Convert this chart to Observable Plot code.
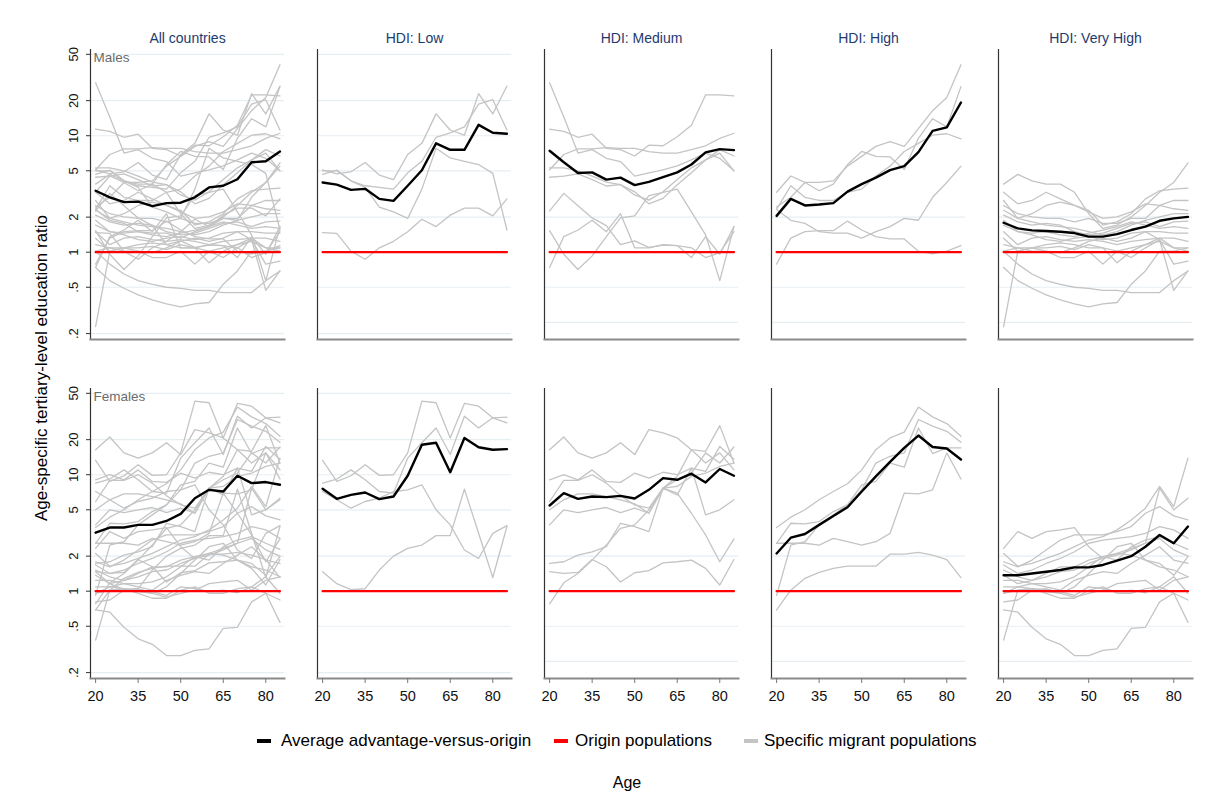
<!DOCTYPE html>
<html><head><meta charset="utf-8">
<script src="https://cdn.jsdelivr.net/npm/d3@7"></script>
<script src="https://cdn.jsdelivr.net/npm/@observablehq/plot@0.6"></script>
<style>
body{margin:0;background:#fff;font-family:"Liberation Sans",Arial,sans-serif;}
#wrap{position:relative;width:1215px;height:809px;overflow:hidden;}
.leg{position:absolute;top:730px;font-size:17px;line-height:22px;white-space:nowrap;color:#000;}
.sw{position:absolute;top:739px;width:14px;height:4px;}
#xlab{position:absolute;top:772px;left:600px;width:54px;text-align:center;font-size:16px;line-height:22px;}
</style></head><body><div id="wrap"></div>
<script>
// ---- categories & ticks ----
const panels = ["All countries","HDI: Low","HDI: Medium","HDI: High","HDI: Very High"];
const sexes = ["Males","Females"];
const ages = [20,25,30,35,40,45,50,55,60,65,70,75,80,85];
const xTicks = [20,35,50,65,80];
const yTicks = [0.2,0.5,1,2,5,10,20,50];
const yTickLabels = [".2",".5","1","2","5","10","20","50"];
const gridFull = [0.2,0.5,2,5,10,20,50];
const gridPartial = [0.25,0.5,2];
const originRatio = 1;

// ---- average advantage-versus-origin (black) ----
const avgMaleAll      = [3.37,2.96,2.69,2.72,2.49,2.64,2.66,2.96,3.60,3.72,4.23,5.92,6.03,7.33];
const avgMaleLow      = [3.97,3.80,3.43,3.50,2.87,2.76,3.72,5.05,8.60,7.57,7.57,12.4,10.6,10.4];
const avgMaleMedium   = [7.43,5.92,4.78,4.85,4.20,4.37,3.77,4.02,4.42,4.85,5.66,7.20,7.67,7.53];
const avgMaleHigh     = [2.05,2.87,2.52,2.57,2.64,3.31,3.84,4.37,5.07,5.48,7.24,11.0,11.8,19.3];
const avgMaleVeryHigh = [1.79,1.60,1.54,1.52,1.50,1.46,1.36,1.36,1.43,1.55,1.66,1.86,1.95,2.01];

const avgFemaleAll      = [3.18,3.52,3.52,3.71,3.71,4.01,4.61,6.29,7.42,7.18,9.80,8.47,8.65,8.20];
const avgFemaleLow      = [7.57,6.21,6.72,7.04,6.17,6.50,9.80,18.1,18.8,10.5,20.7,17.2,16.4,16.6];
const avgFemaleMedium   = [5.44,6.95,6.21,6.50,6.42,6.59,6.25,7.42,9.36,9.05,10.2,8.59,11.2,9.80];
const avgFemaleHigh     = [2.11,2.88,3.10,3.71,4.43,5.26,7.18,9.68,12.9,17.0,21.7,17.3,16.8,13.5];
const avgFemaleVeryHigh = [1.37,1.37,1.42,1.47,1.52,1.60,1.60,1.68,1.83,2.00,2.41,3.04,2.58,3.59];

// ---- specific migrant populations (gray) ----
const migMaleLow = [
 [5.1,4.7,4.9,5.9,4.6,4.2,6.9,8.6,15.4,11.2,10.1,23.0,15.4,26.7],
 [5.0,5.0,4.1,3.72,3.6,3.48,4.8,6.03,9.7,10.6,11.9,18.7,20.4,11.2],
 [4.66,5.07,4.1,3.6,2.44,2.22,1.95,3.48,7.8,6.44,6.03,5.66,4.75,1.55],
 [1.47,1.45,1.02,0.87,1.09,1.24,1.5,1.92,1.66,2.08,2.39,2.39,2.05,2.87]
];
const migMaleMedium = [
 [28.5,14.5,7.1,7.6,6.4,6.0,4.5,4.8,5.1,5.5,6.2,7.1,6.4,5.0],
 [11.4,10.9,9.7,10.3,7.8,7.6,6.7,8.3,8.2,9.8,12.3,22.4,22.4,22.0],
 [5.1,6.9,7.7,7.7,7.9,7.8,7.8,7.3,7.1,7.1,7.6,8.2,9.5,10.5],
 [5.3,5.3,5.0,4.5,4.0,3.8,3.3,2.6,2.9,3.8,4.8,6.2,7.6,6.7],
 [4.4,4.5,4.7,4.2,3.7,3.8,3.1,2.8,3.3,4.2,5.3,6.2,7.1,5.0],
 [2.26,3.2,2.5,1.97,1.69,1.16,1.25,1.10,1.15,1.14,0.90,1.36,0.96,1.66],
 [1.53,0.96,0.71,0.93,1.36,1.97,2.05,3.06,3.27,3.48,2.22,1.41,0.57,1.66],
 [0.74,1.36,1.55,1.88,1.50,2.14,1.09,1.09,1.16,1.14,1.09,0.90,0.99,1.50]
];
const migMaleHigh = [
 [2.44,2.96,3.97,3.97,4.1,5.48,6.65,8.1,8.9,8.1,11.5,16.4,21.3,40.7],
 [3.27,4.51,3.97,3.37,3.84,5.66,7.33,6.65,6.58,5.13,9.5,14.0,11.9,26.4],
 [2.33,3.72,2.96,2.78,2.78,3.27,3.48,4.51,5.48,7.33,8.6,10.1,10.4,9.4],
 [2.33,1.88,1.77,1.50,1.46,1.46,1.32,1.50,1.66,1.95,1.88,2.96,3.97,5.48],
 [0.79,1.32,1.50,1.53,1.53,1.85,1.55,1.36,1.30,1.30,1.02,0.97,1.02,1.14]
];
const migMaleVeryHigh = [
 [3.84,4.66,4.10,3.84,3.84,3.27,2.14,1.60,1.71,2.01,2.52,3.27,3.97,5.85],
 [3.27,2.60,2.78,3.27,2.87,2.52,2.29,1.71,1.82,2.14,2.87,3.37,3.48,3.55],
 [2.78,1.95,2.14,2.52,2.69,2.52,2.22,1.95,2.01,2.22,2.60,2.52,2.78,2.78],
 [2.52,2.14,2.01,1.95,1.95,1.82,1.95,1.77,1.77,1.95,1.95,2.52,2.36,2.29],
 [2.29,1.95,1.82,1.71,1.66,1.60,1.50,1.41,1.50,1.71,1.88,2.01,2.14,2.14],
 [2.08,1.82,1.71,1.77,1.71,1.50,1.41,1.46,1.60,1.77,1.82,1.66,1.82,1.85],
 [1.88,1.50,1.46,1.50,1.41,1.36,1.46,1.55,1.66,1.82,1.71,1.60,1.66,1.60],
 [1.71,1.50,1.41,1.28,1.24,1.32,1.36,1.28,1.32,1.46,1.50,1.50,1.46,1.46],
 [1.50,1.16,1.32,1.36,1.28,1.24,1.28,1.24,1.16,1.24,1.28,1.32,1.32,1.24],
 [1.32,1.02,1.09,1.09,1.12,1.05,1.16,1.09,0.81,1.02,1.16,1.24,1.09,1.09],
 [1.16,1.09,1.02,1.02,0.99,1.09,1.24,1.32,1.24,1.32,1.50,1.28,0.79,0.84],
 [1.02,1.09,1.09,1.02,0.90,0.90,1.02,0.79,1.02,0.90,1.09,1.28,0.47,0.69],
 [0.74,0.57,0.49,0.43,0.39,0.36,0.34,0.36,0.37,0.53,0.69,1.02,1.02,1.09],
 [1.02,0.79,0.65,0.57,0.53,0.50,0.49,0.47,0.47,0.45,0.45,0.45,0.57,0.69],
 [0.23,1.02,1.09,1.16,1.20,1.16,1.09,1.09,1.02,1.09,1.16,1.32,1.09,1.02]
];

const migFemaleLow = [
 [13.3,8.76,9.80,12.2,9.87,10.0,15.4,42.9,41.5,20.7,40.9,38.8,30.8,27.9],
 [8.47,9.18,11.0,9.05,7.18,6.95,13.9,18.8,25.2,14.9,31.8,25.2,30.8,31.2],
 [7.18,6.09,5.16,5.89,6.29,7.18,7.42,8.20,5.0,3.71,2.26,1.91,3.14,3.66],
 [1.47,1.16,1.03,1.05,1.52,2.0,2.33,2.49,3.0,3.0,7.52,3.14,1.31,3.59]
];
const migFemaleMedium = [
 [16.4,21.1,15.4,13.9,15.4,18.8,14.9,24.4,22.9,20.7,16.4,15.9,26.4,12.6],
 [9.05,10.0,9.05,11.0,8.76,8.59,10.3,9.36,10.5,10.0,11.4,10.7,17.5,13.6],
 [5.89,8.93,8.93,10.0,8.47,6.59,5.51,5.16,7.67,9.05,10.3,15.4,12.6,17.3],
 [5.0,6.09,6.86,6.86,6.50,6.09,5.62,4.67,7.67,7.93,9.68,10.3,11.8,12.6],
 [3.71,5.0,4.73,5.0,5.23,4.73,5.16,4.67,7.67,6.72,11.4,4.52,5.0,6.09],
 [1.73,1.79,2.04,2.18,2.41,3.83,3.59,3.25,7.67,9.68,16.4,12.6,15.4,11.0],
 [0.78,1.18,1.42,1.85,2.49,3.47,3.71,5.0,7.67,6.95,4.67,3.04,1.79,2.81],
 [1.47,1.42,1.45,1.87,1.62,1.20,1.44,1.50,1.75,1.79,1.85,1.57,1.13,1.87]
];
const migFemaleHigh = [
 [3.52,4.32,5.0,6.09,7.18,8.36,11.0,16.4,20.7,23.2,38.1,31.4,27.5,21.4],
 [2.58,3.83,3.78,3.96,4.83,5.51,7.42,12.6,14.4,15.4,29.8,26.1,23.6,19.0],
 [2.58,2.58,2.58,2.49,2.84,2.66,2.49,2.66,3.14,6.95,6.86,7.42,15.4,9.18],
 [0.92,2.49,2.66,3.71,4.52,5.51,8.2,8.76,12.6,11.6,25.2,15.2,17.0,17.0],
 [0.69,1.02,1.29,1.45,1.57,1.64,1.64,1.64,2.08,2.08,2.15,2.04,1.87,1.31]
];
const migFemaleVeryHigh = [
 [2.11,1.64,1.73,1.91,2.11,2.41,2.75,2.94,3.36,4.09,5.16,7.93,5.33,13.9],
 [2.33,3.25,2.84,3.25,3.36,3.52,2.41,1.91,2.04,2.26,2.58,7.67,5.0,6.29],
 [1.79,1.62,1.85,2.26,2.75,3.04,3.04,3.04,3.25,3.59,4.67,5.33,4.43,4.09],
 [1.68,1.42,1.52,1.73,1.91,2.18,2.58,2.75,2.84,2.94,3.14,3.59,3.36,2.84],
 [1.52,1.33,1.24,1.42,1.62,1.62,1.85,1.98,1.85,2.41,2.75,2.94,2.58,2.29],
 [1.37,1.16,1.24,1.33,1.47,1.52,1.73,1.91,2.11,2.33,2.58,2.84,2.26,2.0],
 [1.24,1.24,1.16,1.16,1.20,1.33,1.62,1.98,2.11,2.04,1.85,1.73,1.37,1.98],
 [1.09,1.09,1.16,1.09,1.02,1.24,1.37,1.47,1.42,1.73,2.04,2.41,1.85,1.73],
 [0.96,1.09,1.05,0.99,0.96,1.09,1.42,1.85,2.41,2.58,1.85,1.62,1.52,1.33],
 [0.81,0.84,1.02,1.05,0.96,0.89,0.96,1.02,1.16,1.20,1.24,1.02,1.24,1.33],
 [0.96,1.02,1.05,0.96,0.87,0.87,1.02,1.09,0.96,0.96,1.05,1.09,0.96,0.84],
 [0.69,0.66,0.49,0.39,0.35,0.28,0.28,0.31,0.32,0.48,0.49,0.81,0.96,0.54],
 [0.38,1.02,1.05,1.03,0.99,0.92,1.09,1.05,0.99,1.02,0.97,1.09,1.33,0.96]
];

// ---- build tidy rows ----
const maleAvg = [avgMaleAll, avgMaleLow, avgMaleMedium, avgMaleHigh, avgMaleVeryHigh];
const femaleAvg = [avgFemaleAll, avgFemaleLow, avgFemaleMedium, avgFemaleHigh, avgFemaleVeryHigh];
const maleMig = [migMaleLow, migMaleMedium, migMaleHigh, migMaleVeryHigh];
const femaleMig = [migFemaleLow, migFemaleMedium, migFemaleHigh, migFemaleVeryHigh];

const grayRows = [], avgRows = [], originRows = [], gridRows = [], yLabelRows = [];
sexes.forEach((sex, si) => {
  const mig = si === 0 ? maleMig : femaleMig;
  const avg = si === 0 ? maleAvg : femaleAvg;
  mig.forEach((grp, gi) => grp.forEach((series, k) => series.forEach((v, i) => {
    const id = gi + "-" + k;
    grayRows.push({sex, panel: panels[gi + 1], id, age: ages[i], v});
    grayRows.push({sex, panel: panels[0], id, age: ages[i], v});
  })));
  avg.forEach((series, pi) => series.forEach((v, i) => avgRows.push({sex, panel: panels[pi], age: ages[i], v})));
  panels.forEach((panel, pi) => {
    ages.forEach(age => originRows.push({sex, panel, age, v: originRatio}));
    (pi < 2 ? gridFull : gridPartial).forEach(v => gridRows.push({sex, panel, v}));
  });
  yTicks.forEach((v, i) => yLabelRows.push({sex, panel: panels[0], v, label: yTickLabels[i]}));
});

const FONT = "Liberation Sans, Arial, sans-serif";
const plot = Plot.plot({
  width: 1215, height: 715,
  marginLeft: 89, marginRight: 22, marginTop: 49, marginBottom: 37,
  style: {fontFamily: FONT, background: "transparent", overflow: "visible"},
  x: {domain: [18.2, 86.6]},
  y: {type: "log", domain: [0.178, 55]},
  fx: {domain: panels, paddingInner: 0.147, axis: null},
  fy: {domain: sexes, paddingInner: 0.145, axis: null},
  marks: [
    Plot.ruleY(gridRows, {y: "v", fx: "panel", fy: "sex", stroke: "#e6eef2", strokeWidth: 1.2}),
    Plot.line(grayRows, {x: "age", y: "v", z: "id", fx: "panel", fy: "sex", stroke: "#c4c4c4", strokeWidth: 1.3}),
    Plot.line(originRows, {x: "age", y: "v", fx: "panel", fy: "sex", stroke: "#ff0000", strokeWidth: 2.2}),
    Plot.line(avgRows, {x: "age", y: "v", fx: "panel", fy: "sex", stroke: "#000", strokeWidth: 2.4}),
    Plot.frame({anchor: "left", stroke: "#333", strokeWidth: 1.2}),
    Plot.frame({anchor: "bottom", stroke: "#8a8a8a", strokeWidth: 2}),
    Plot.axisY({ticks: yTicks, tickFormat: () => "", tickSize: 4, label: null, facetAnchor: "left", stroke: "#333"}),
    Plot.text(yLabelRows, {fx: "panel", fy: "sex", y: "v", text: "label", frameAnchor: "left", dx: -17,
      rotate: -90, textAnchor: "middle", lineAnchor: "middle", fontSize: 13, fill: "#111"}),
    Plot.axisX(xTicks, {tickSize: 5, tickPadding: 7, fontSize: 14.5, label: null, facetAnchor: "bottom", stroke: "#777", fill: "#111"}),
    Plot.text(panels, {fx: d => d, fy: () => "Males", text: d => d, frameAnchor: "top", dy: -11, lineAnchor: "middle", fill: "#1e3a6e", fontSize: 14}),
    Plot.text(sexes, {fx: () => "All countries", fy: d => d, text: d => d, frameAnchor: "top-left", textAnchor: "start", lineAnchor: "top", dx: 3, dy: 3, fill: "#6b6b6b", fontSize: 13.5})
  ]
});
const wrap = document.getElementById("wrap");
wrap.appendChild(plot);

// y-axis title
d3.select(plot).append("text")
  .attr("transform", "translate(43,368) rotate(-90)")
  .attr("text-anchor", "middle").attr("dominant-baseline", "middle")
  .attr("font-family", FONT).attr("font-size", 17).attr("fill", "#000")
  .text("Age-specific tertiary-level education ratio");

// legend (HTML below the SVG)
const legendItems = [
  {label: "Average advantage-versus-origin", color: "#000", sw: 257, tx: 281},
  {label: "Origin populations", color: "#ff0000", sw: 554, tx: 575},
  {label: "Specific migrant populations", color: "#c4c4c4", sw: 744, tx: 764}
];
legendItems.forEach(it => {
  const s = document.createElement("div"); s.className = "sw";
  s.style.left = it.sw + "px"; s.style.background = it.color; wrap.appendChild(s);
  const t = document.createElement("div"); t.className = "leg";
  t.style.left = it.tx + "px"; t.textContent = it.label; wrap.appendChild(t);
});
const xl = document.createElement("div"); xl.id = "xlab"; xl.textContent = "Age"; wrap.appendChild(xl);
</script></body></html>
